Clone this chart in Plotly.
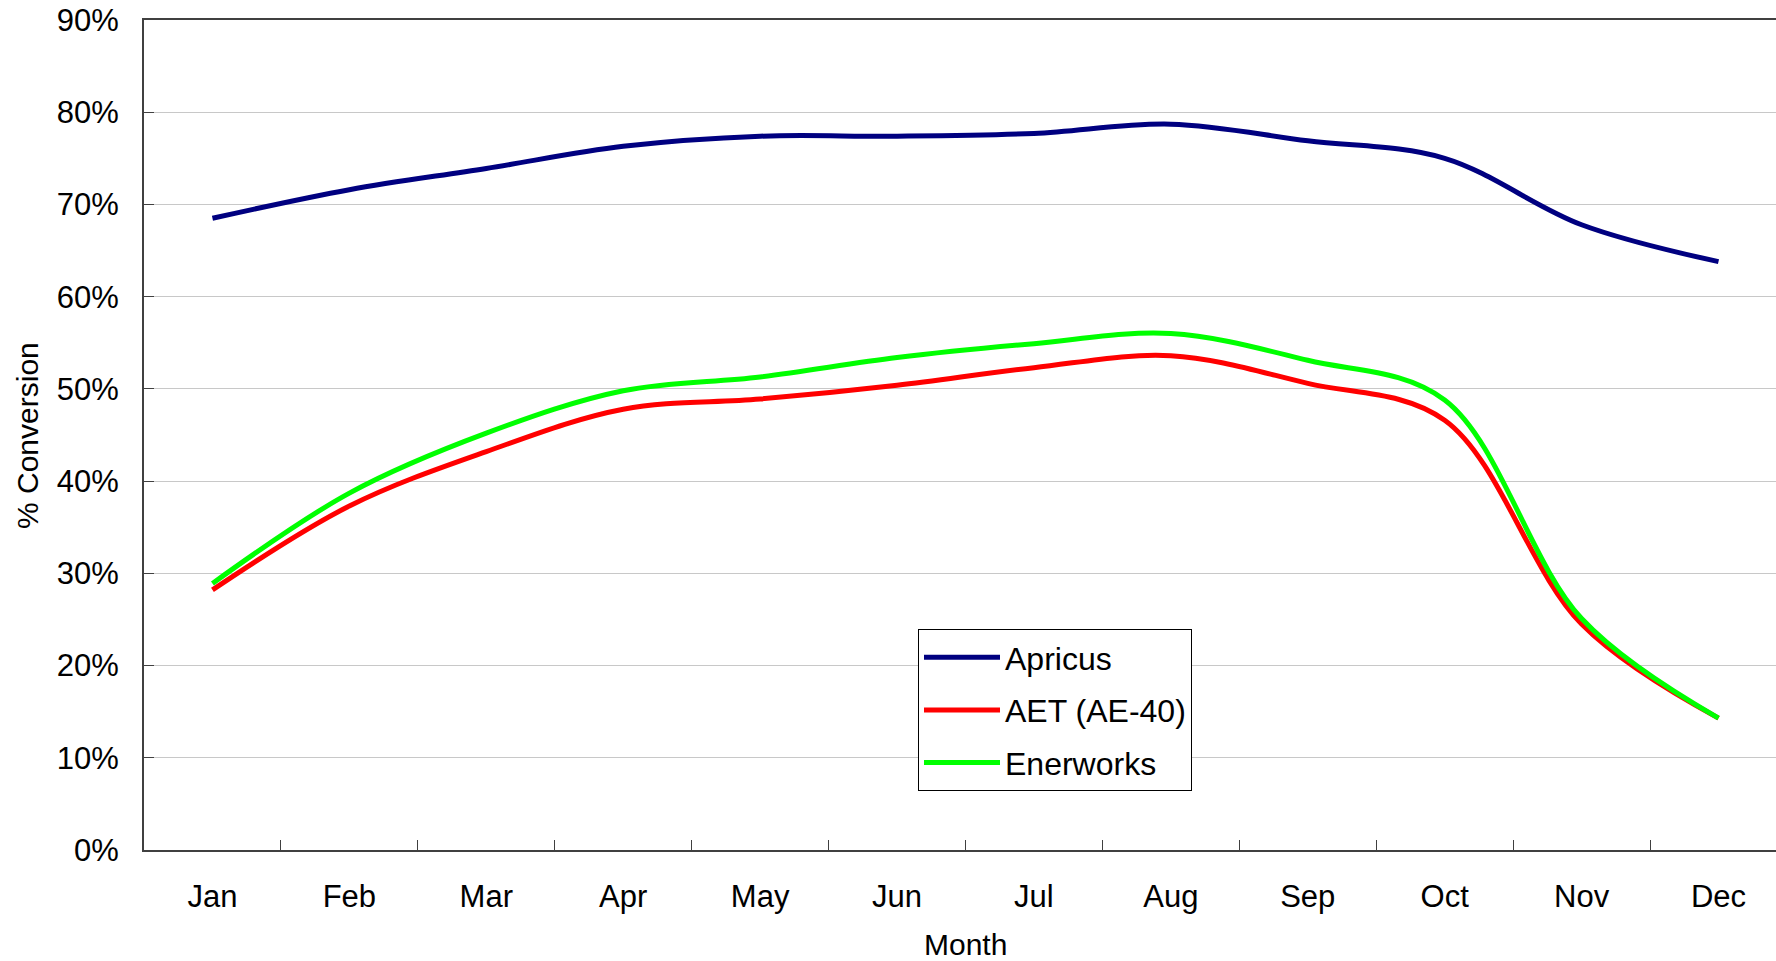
import plotly.graph_objects as go

months = ["Jan", "Feb", "Mar", "Apr", "May", "Jun", "Jul", "Aug", "Sep", "Oct", "Nov", "Dec"]
apricus = [68.5, 71.6, 73.9, 76.3, 77.4, 77.4, 77.7, 78.7, 76.9, 75.0, 67.8, 63.8]
aet = [28.2, 37.3, 43.2, 47.8, 48.9, 50.4, 52.3, 53.6, 50.6, 46.6, 24.5, 14.3]
enerworks = [28.9, 38.7, 45.2, 49.8, 51.3, 53.4, 54.9, 56.0, 53.1, 48.8, 25.1, 14.3]
yticks = [0, 10, 20, 30, 40, 50, 60, 70, 80, 90]

FONT = "Liberation Sans, Arial, sans-serif"

fig = go.Figure()
series = [("Apricus", apricus, "#000080"), ("AET (AE-40)", aet, "#FF0000"), ("Enerworks", enerworks, "#00FF00")]
for i, (name, vals, col) in enumerate(series):
    fig.add_trace(go.Scatter(
        x=months, y=[v / 100 for v in vals], name=name, mode="lines",
        line=dict(color=col, width=5, shape="spline", smoothing=1.0),
        legendgroup=f"g{i}",
    ))

PW = 1776 - 144
PH = 850 - 20

fig.update_layout(
    width=1776, height=961,
    margin=dict(l=144, r=0, t=20, b=111, autoexpand=False),
    plot_bgcolor="white", paper_bgcolor="white",
    font=dict(family=FONT, size=31, color="black"),
    showlegend=True,
    legend=dict(
        x=(918 - 144) / PW, y=(850 - 629) / PH, xanchor="left", yanchor="top",
        bordercolor="black", borderwidth=1, bgcolor="white",
        font=dict(size=32), tracegroupgap=8, itemwidth=76,
    ),
    xaxis=dict(
        type="category", categoryorder="array", categoryarray=months,
        range=[-0.5, 11.42], tickson="boundaries", automargin=False,
        ticks="inside", ticklen=10, tickcolor="#404040", tickwidth=1,
        showline=True, linecolor="#404040", linewidth=2, mirror=True,
        showgrid=False, zeroline=False, ticklabelstandoff=18,
    ),
    yaxis=dict(
        range=[0, 0.9], tickvals=[t / 100 for t in yticks],
        ticktext=[f"{t}%" for t in yticks], automargin=False,
        ticks="inside", ticklen=10, tickcolor="#404040", tickwidth=1,
        showline=True, linecolor="#404040", linewidth=2,
        showgrid=True, gridcolor="#C8C8C8", gridwidth=1, zeroline=False,
        ticklabelstandoff=17,
    ),
    annotations=[
        dict(text="Month", xref="paper", yref="paper", x=(965 - 144) / PW, y=-(944 - 850) / PH,
             xanchor="center", yanchor="middle", showarrow=False, font=dict(size=30)),
        dict(text="% Conversion", xref="paper", yref="paper", x=(28 - 144) / PW, y=(850 - 436) / PH,
             xanchor="center", yanchor="middle", textangle=-90, showarrow=False, font=dict(size=30)),
    ],
)

fig.write_html(
    "out.html",
    config={"displayModeBar": False},
    post_script="document.body.style.margin='0';document.body.style.overflow='hidden';",
)
